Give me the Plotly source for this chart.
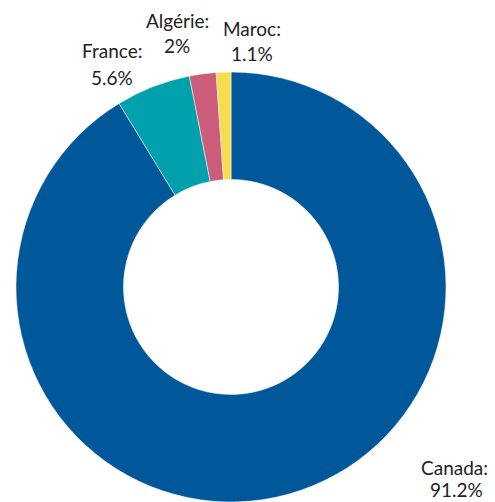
import plotly.graph_objects as go

countries = ["Canada", "France", "Algérie", "Maroc"]
shares = [91.2, 5.6, 2, 1.1]
colors = ["#00579A", "#00A1AD", "#CC5D7A", "#F6DC4E"]

# label centres in reference pixels (name line, value line)
label_px = {
    "Canada": ((454, 467), (456, 489)),
    "France": ((112, 51), (112, 77)),
    "Algérie": ((177, 20), (177, 46)),
    "Maroc": ((252, 28), (252, 53)),
}

OFF = 8  # page body margin
W, H = 495 - OFF, 502 - OFF
FONT = "Lato"

fig = go.Figure(go.Pie(
    labels=countries,
    values=shares,
    sort=False,
    direction="clockwise",
    rotation=0,
    hole=0.5,
    marker=dict(colors=colors, line=dict(color="white", width=0.5)),
    textinfo="none",
    showlegend=False,
    domain=dict(x=[(15 - OFF) / W, (447 - OFF) / W], y=[0, 1 - (72 - OFF) / H]),
))

annotations = []
for name, val in zip(countries, shares):
    (nx, ny), (vx, vy) = label_px[name]
    for txt, x, y in ((f"{name}:", nx, ny), (f"{val:g}%", vx, vy)):
        annotations.append(dict(
            text=txt, x=(x - OFF) / W, y=1 - (y - OFF) / H, xref="paper", yref="paper",
            xanchor="center", yanchor="middle", showarrow=False,
            font=dict(family=FONT, size=19, color="#222222"),
        ))

fig.update_layout(
    width=W, height=H,
    margin=dict(l=0, r=0, t=0, b=0),
    paper_bgcolor="white",
    plot_bgcolor="white",
    annotations=annotations,
)

fig.write_html("out.html")
